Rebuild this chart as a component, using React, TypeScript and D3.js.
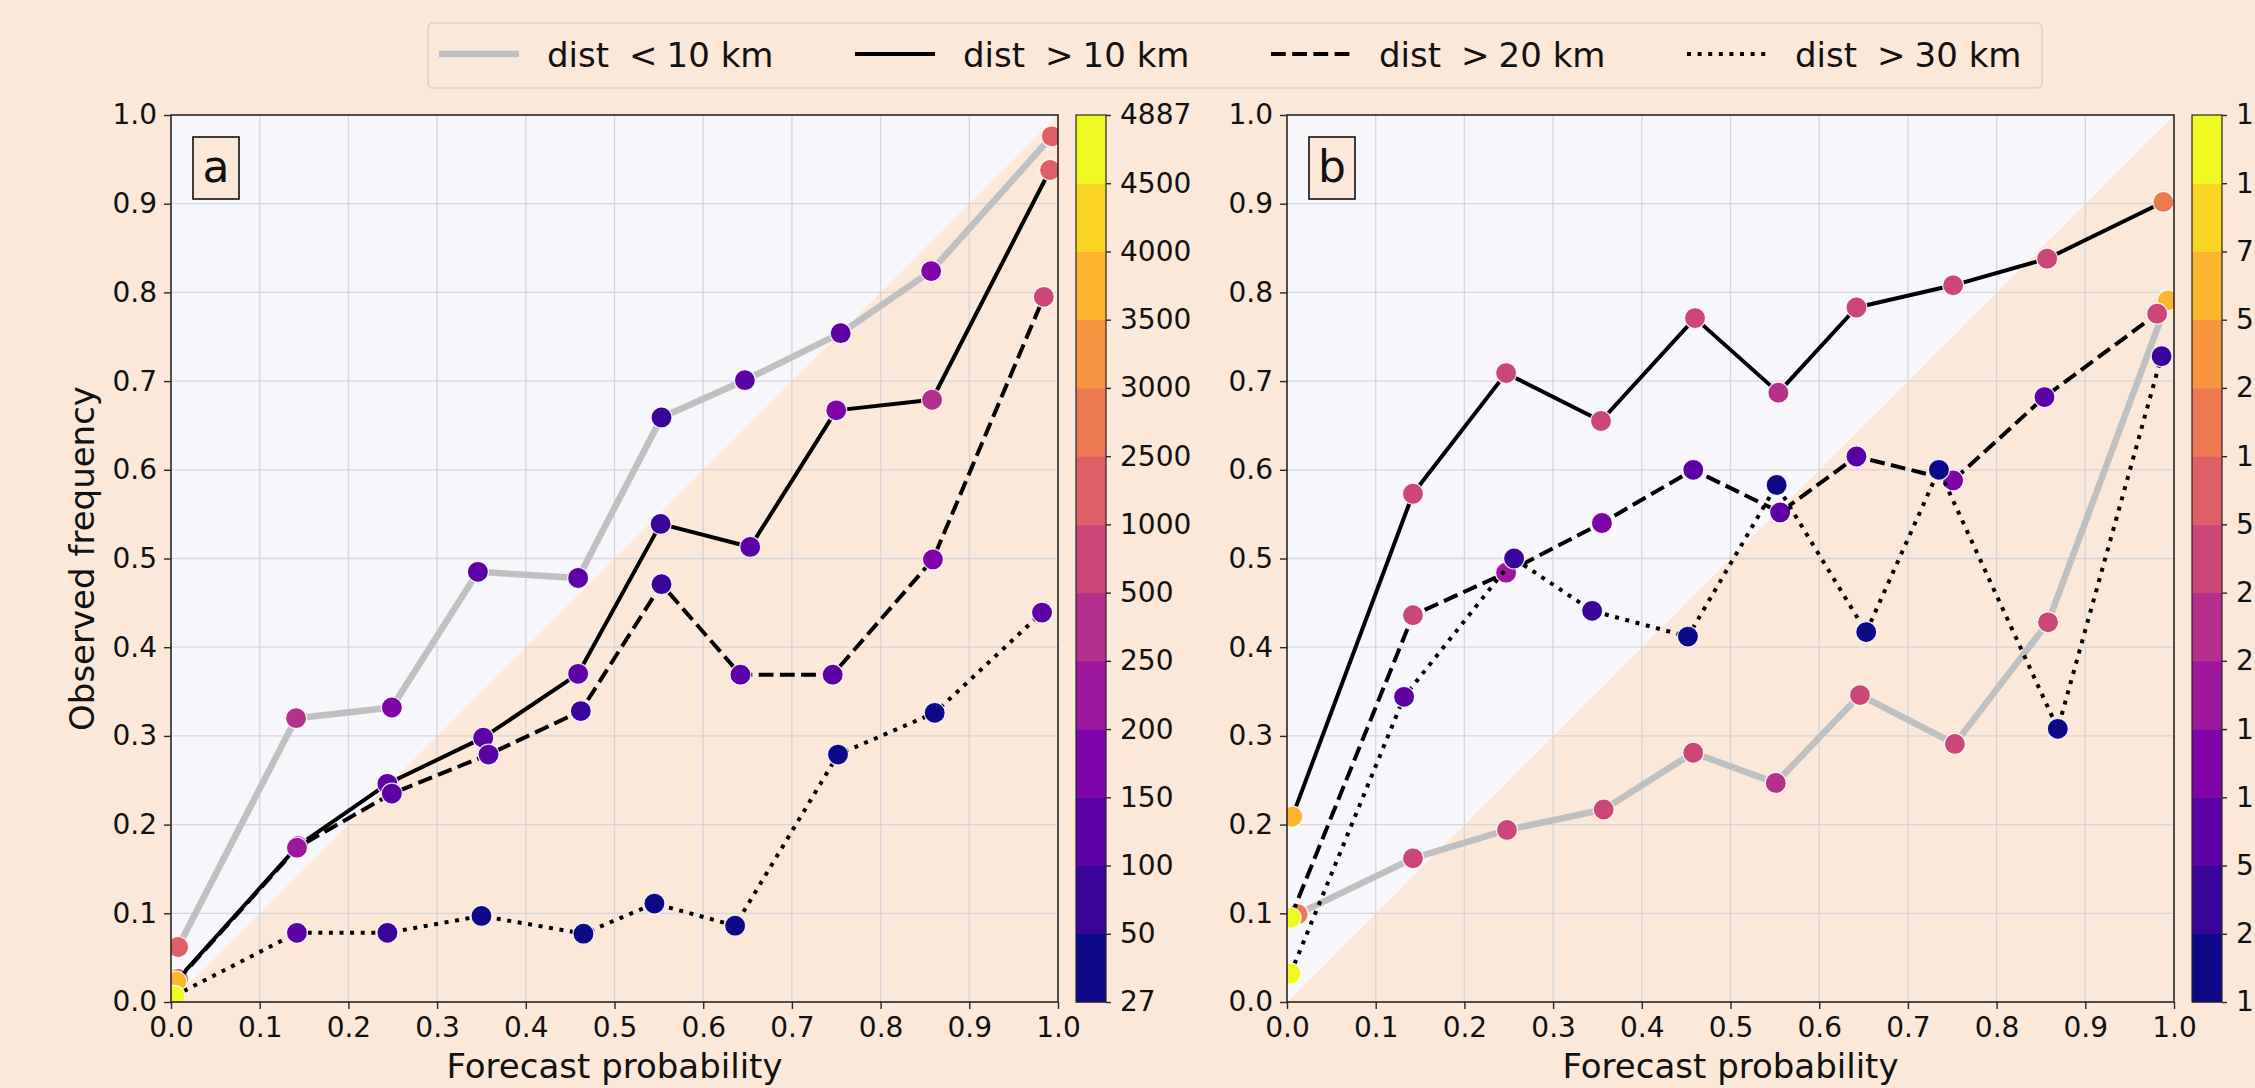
import React, { useEffect, useRef } from 'react';
import * as d3 from 'd3';

const W = 2255;
const H = 1088;
const BG = '#fbe8d8';
const INNER = '#f6f6fb';
const FONT = 'DejaVu Sans';

const probTicks = [0, 0.1, 0.2, 0.3, 0.4, 0.5, 0.6, 0.7, 0.8, 0.9, 1.0];
const legendLabels = ['dist', 'dist', 'dist', 'dist'];
const legendRel = ['<', '>', '>', '>'];
const legendKm = ['10 km', '10 km', '20 km', '30 km'];

// colorbar boundaries (evenly spaced bins, plasma)
const cbTicksA = [27, 50, 100, 150, 200, 250, 500, 1000, 2500, 3000, 3500, 4000, 4500, 4887];
const cbTicksB = [1, 2, 5, 10, 15, 20, 25, 50, 100, 250, 500, 750, 1000, 1236];

// panel a
const aLt10X = [0.008, 0.141, 0.249, 0.346, 0.459, 0.553, 0.647, 0.755, 0.857, 0.993];
const aLt10Y = [0.062, 0.320, 0.332, 0.485, 0.478, 0.659, 0.701, 0.754, 0.824, 0.976];
const aLt10N = [1800, 320, 170, 120, 110, 75, 115, 105, 160, 1900];

const aGt10X = [0.008, 0.143, 0.244, 0.352, 0.459, 0.552, 0.653, 0.750, 0.858, 0.991];
const aGt10Y = [0.026, 0.176, 0.246, 0.298, 0.370, 0.539, 0.513, 0.667, 0.679, 0.938];
const aGt10N = [1400, 210, 125, 130, 120, 70, 110, 165, 300, 1700];

const aGt20X = [0.006, 0.142, 0.249, 0.358, 0.462, 0.553, 0.642, 0.746, 0.859, 0.984];
const aGt20Y = [0.023, 0.174, 0.235, 0.279, 0.328, 0.471, 0.369, 0.369, 0.499, 0.795];
const aGt20N = [3700, 205, 115, 140, 85, 80, 120, 125, 170, 700];

const aGt30X = [0.004, 0.142, 0.244, 0.350, 0.465, 0.545, 0.636, 0.752, 0.861, 0.982];
const aGt30Y = [0.007, 0.078, 0.078, 0.097, 0.077, 0.111, 0.086, 0.279, 0.326, 0.439];
const aGt30N = [4887, 105, 90, 45, 40, 35, 30, 40, 45, 100];

// panel b
const bLt10X = [0.012, 0.142, 0.248, 0.357, 0.458, 0.551, 0.646, 0.753, 0.858, 0.993];
const bLt10Y = [0.099, 0.162, 0.194, 0.217, 0.281, 0.247, 0.346, 0.291, 0.428, 0.791];
const bLt10N = [180, 40, 35, 30, 28, 22, 30, 27, 26, 600];

const bGt10X = [0.006, 0.142, 0.247, 0.354, 0.460, 0.554, 0.642, 0.751, 0.857, 0.988];
const bGt10Y = [0.209, 0.573, 0.709, 0.655, 0.771, 0.687, 0.783, 0.808, 0.838, 0.902];
const bGt10N = [620, 45, 40, 38, 33, 23, 30, 29, 28, 150];

const bGt20X = [0.004, 0.142, 0.247, 0.355, 0.458, 0.556, 0.642, 0.751, 0.854, 0.981];
const bGt20Y = [0.095, 0.436, 0.484, 0.540, 0.600, 0.552, 0.615, 0.588, 0.682, 0.776];
const bGt20N = [1300, 35, 17, 12, 8, 7, 8, 11, 9, 30];

const bGt30X = [0.004, 0.132, 0.256, 0.344, 0.452, 0.552, 0.653, 0.735, 0.869, 0.986];
const bGt30Y = [0.032, 0.344, 0.500, 0.441, 0.412, 0.583, 0.417, 0.600, 0.308, 0.728];
const bGt30N = [1236, 6, 3, 4, 1, 1, 1, 1, 1, 3];

const styles = [
  { stroke: '#c0c0c0', width: 6.5, dash: null },
  { stroke: '#000', width: 4, dash: null },
  { stroke: '#000', width: 4, dash: '14.8,6.4' },
  { stroke: '#000', width: 4, dash: '4,6.6' },
];

const colors = d3.quantize(d3.interpolatePlasma, 13);

const SIZE = 887;
const TOP = 115;

function drawPanel(svg, left, label, series, cbTicks, showYLabel) {
  const x = d3.scaleLinear().domain([0, 1]).range([left, left + SIZE]);
  const y = d3.scaleLinear().domain([0, 1]).range([TOP + SIZE, TOP]);
  const color = d3.scaleThreshold().domain(cbTicks.slice(1, -1)).range(colors);

  const g = svg.append('g');
  const clipId = 'clip-' + label;
  g.append('clipPath').attr('id', clipId)
    .append('rect').attr('x', x(0)).attr('y', y(1)).attr('width', SIZE).attr('height', SIZE);

  g.append('rect').attr('x', x(0)).attr('y', y(1)).attr('width', SIZE).attr('height', SIZE)
    .attr('fill', INNER);

  const area = d3.line().x(d => x(d[0])).y(d => y(d[1]));
  g.append('path').attr('d', area([[0, 0], [1, 0], [1, 1]]) + 'Z').attr('fill', BG);
  g.append('path').attr('d', area([[0, 0], [1, 1]]))
    .attr('stroke', '#fff').attr('stroke-width', 1).attr('stroke-dasharray', '1,2').attr('opacity', 0.9);

  // grid
  const inner = probTicks.slice(1, -1);
  g.selectAll('.vgrid').data(inner).join('line')
    .attr('x1', d => x(d)).attr('x2', d => x(d)).attr('y1', y(0)).attr('y2', y(1))
    .attr('stroke', '#cdd1da').attr('stroke-width', 1.3).attr('opacity', 0.8);
  g.selectAll('.hgrid').data(inner).join('line')
    .attr('y1', d => y(d)).attr('y2', d => y(d)).attr('x1', x(0)).attr('x2', x(1))
    .attr('stroke', '#cdd1da').attr('stroke-width', 1.3).attr('opacity', 0.8);

  const plot = g.append('g').attr('clip-path', `url(#${clipId})`);
  series.forEach((s, k) => {
    const st = styles[k];
    const pts = s.x.map((v, i) => ({ x: v, y: s.y[i], n: s.n[i] }));
    const line = d3.line().x(d => x(d.x)).y(d => y(d.y));
    plot.append('path').datum(pts).attr('d', line)
      .attr('fill', 'none').attr('stroke', st.stroke).attr('stroke-width', st.width)
      .attr('stroke-dasharray', st.dash).attr('stroke-linejoin', 'round');
    plot.selectAll(null).data(pts).join('circle')
      .attr('cx', d => x(d.x)).attr('cy', d => y(d.y)).attr('r', 10.5)
      .attr('fill', d => color(d.n)).attr('stroke', '#fff').attr('stroke-width', 1.2)
      .attr('stroke-opacity', 0.85);
  });

  // spines
  g.append('rect').attr('x', x(0)).attr('y', y(1)).attr('width', SIZE).attr('height', SIZE)
    .attr('fill', 'none').attr('stroke', '#262626').attr('stroke-width', 1.6);

  const fmt = d3.format('.1f');
  const xAxis = g.append('g').attr('transform', `translate(0,${y(0)})`)
    .call(d3.axisBottom(x).tickValues(probTicks).tickFormat(fmt).tickSize(7).tickPadding(8));
  const yAxis = g.append('g').attr('transform', `translate(${x(0)},0)`)
    .call(d3.axisLeft(y).tickValues(probTicks).tickFormat(fmt).tickSize(7).tickPadding(7));
  [xAxis, yAxis].forEach(a => {
    a.select('.domain').remove();
    a.selectAll('line').attr('stroke', '#262626').attr('stroke-width', 1.4);
    a.selectAll('text').attr('font-family', FONT).attr('font-size', 28).attr('fill', '#111');
  });

  // panel letter
  g.append('rect').attr('x', left + 22).attr('y', TOP + 22).attr('width', 46).attr('height', 62)
    .attr('fill', BG).attr('stroke', '#111').attr('stroke-width', 1.6);
  g.append('text').attr('x', left + 45).attr('y', TOP + 67).attr('text-anchor', 'middle')
    .attr('font-family', FONT).attr('font-size', 44).attr('fill', '#111').text(label);

  // colorbar
  const cbLeft = left + SIZE + 18;
  const cbW = 30;
  const yc = d3.scaleLinear().domain([0, cbTicks.length - 1]).range([TOP + SIZE, TOP]);
  g.selectAll(null).data(colors).join('rect')
    .attr('x', cbLeft).attr('width', cbW)
    .attr('y', (c, i) => yc(i + 1)).attr('height', (c, i) => yc(i) - yc(i + 1) + 0.5)
    .attr('fill', c => c);
  g.append('rect').attr('x', cbLeft).attr('y', TOP).attr('width', cbW).attr('height', SIZE)
    .attr('fill', 'none').attr('stroke', '#262626').attr('stroke-width', 1.2);
  const cAxis = g.append('g').attr('transform', `translate(${cbLeft + cbW},0)`)
    .call(d3.axisRight(yc).tickValues(d3.range(cbTicks.length)).tickFormat(i => cbTicks[i])
      .tickSize(5).tickPadding(9));
  cAxis.select('.domain').remove();
  cAxis.selectAll('line').attr('stroke', '#262626').attr('stroke-width', 1.4);
  cAxis.selectAll('text').attr('font-family', FONT).attr('font-size', 28).attr('fill', '#111');

  // axis labels
  g.append('text').attr('x', left + SIZE / 2).attr('y', 1078).attr('text-anchor', 'middle')
    .attr('font-family', FONT).attr('font-size', 34).attr('fill', '#111').text('Forecast probability');
  if (showYLabel) {
    g.append('text').attr('transform', `translate(94,${TOP + SIZE / 2}) rotate(-90)`)
      .attr('text-anchor', 'middle').attr('font-family', FONT).attr('font-size', 34)
      .attr('fill', '#111').text('Observed frequency');
  }
}

function drawLegend(svg) {
  const lg = svg.append('g');
  lg.append('rect').attr('x', 428).attr('y', 23).attr('width', 1614).attr('height', 65).attr('rx', 5)
    .attr('fill', BG).attr('stroke', '#d4d4d8').attr('stroke-width', 1.5);
  const x0 = d3.scalePoint().domain(d3.range(4)).range([439, 1687]);
  styles.forEach((st, i) => {
    const hx = x0(i);
    lg.append('line').attr('x1', hx).attr('x2', hx + 80).attr('y1', 54).attr('y2', 54)
      .attr('stroke', st.stroke).attr('stroke-width', st.width).attr('stroke-dasharray', st.dash);
    const t = lg.append('text').attr('x', hx + 108).attr('y', 67)
      .attr('font-family', FONT).attr('font-size', 34).attr('fill', '#111');
    t.append('tspan').text(legendLabels[i]);
    t.append('tspan').attr('dx', 20).text(legendRel[i]);
    t.append('tspan').attr('dx', 9).text(legendKm[i]);
  });
}

export default function App() {
  const ref = useRef(null);

  useEffect(() => {
    const svg = d3.select(ref.current);
    svg.selectAll('*').remove();

    svg.append('rect').attr('width', W).attr('height', H).attr('fill', BG);

    drawPanel(svg, 171, 'a', [
      { x: aLt10X, y: aLt10Y, n: aLt10N },
      { x: aGt10X, y: aGt10Y, n: aGt10N },
      { x: aGt20X, y: aGt20Y, n: aGt20N },
      { x: aGt30X, y: aGt30Y, n: aGt30N },
    ], cbTicksA, true);

    drawPanel(svg, 1287, 'b', [
      { x: bLt10X, y: bLt10Y, n: bLt10N },
      { x: bGt10X, y: bGt10Y, n: bGt10N },
      { x: bGt20X, y: bGt20Y, n: bGt20N },
      { x: bGt30X, y: bGt30Y, n: bGt30N },
    ], cbTicksB, false);

    drawLegend(svg);
  }, []);

  return (
    <svg ref={ref} width={W} height={H}
      style={{ position: 'absolute', left: 0, top: 0, display: 'block' }} />
  );
}
